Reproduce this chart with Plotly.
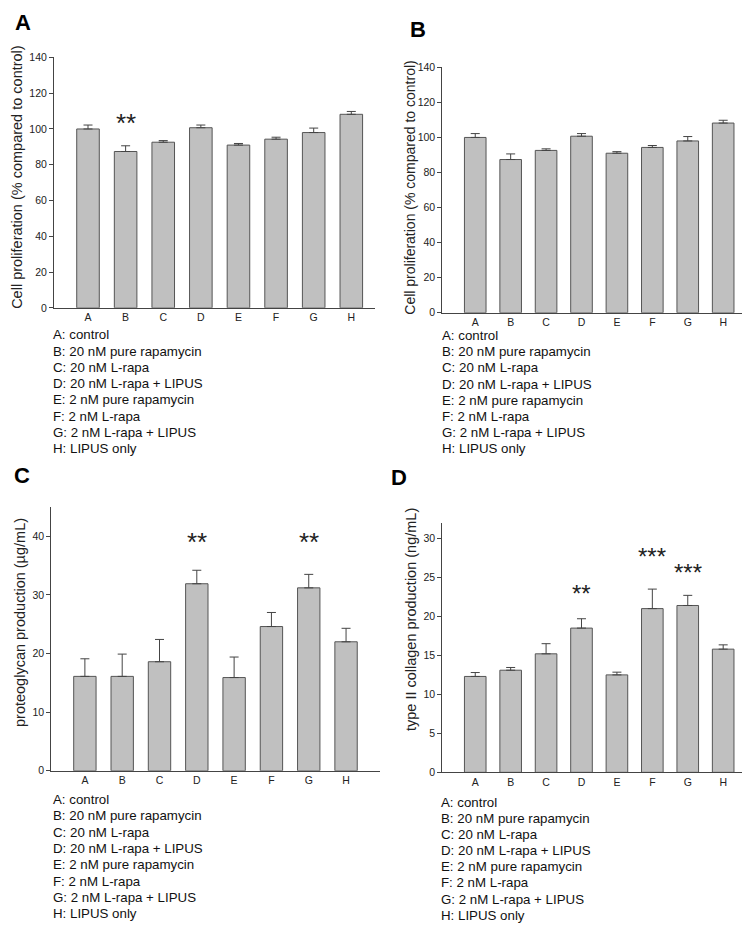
import plotly.graph_objects as go
from plotly.subplots import make_subplots

groups = ['A', 'B', 'C', 'D', 'E', 'F', 'G', 'H']
legend_lines = ['A: control', 'B: 20 nM pure rapamycin', 'C: 20 nM L-rapa',
                'D: 20 nM L-rapa + LIPUS', 'E: 2 nM pure rapamycin', 'F: 2 nM L-rapa',
                'G: 2 nM L-rapa + LIPUS', 'H: LIPUS only']

# panel A and B show the same proliferation data
prolif = [100, 87.4, 92.6, 100.7, 91.0, 94.3, 98.0, 108.2]
prolif_err = [2.2, 3.2, 0.9, 1.5, 0.9, 1.1, 2.5, 1.6]

proteo = [16.1, 16.1, 18.6, 31.9, 15.9, 24.6, 31.2, 22.0]
proteo_err = [3.0, 3.8, 3.8, 2.3, 3.5, 2.4, 2.3, 2.3]

coll2 = [12.3, 13.1, 15.2, 18.5, 12.5, 21.0, 21.4, 15.8]
coll2_err = [0.5, 0.35, 1.3, 1.2, 0.35, 2.5, 1.3, 0.55]

# significance marks: (group, label, y position in data units)
sig_A = [('B', '**', 98.9)]
sig_C = [('D', '**', 37.6), ('G', '**', 37.6)]
sig_D = [('D', '**', 21.9), ('F', '***', 26.7), ('G', '***', 24.6)]

FONT = 'Liberation Sans, Arial, sans-serif'
BAR = '#c0c0c0'
EDGE = '#555555'
AX = '#444444'

W, H = 750, 927

fig = make_subplots(rows=2, cols=2)

panels = [
    # (row, col, vals, err, xdom px, ydom px (top,bottom), xrange, yrange, dtick, width)
    (1, 1, prolif, prolif_err, (46, 367), (44, 297.7), [-0.904, 7.63], [0, 140], 20, 0.6),
    (1, 2, prolif, prolif_err, (434.3, 746.7), (54, 302.7), [-0.93, 7.89], [0, 140], 20, 0.61),
    (2, 1, proteo, proteo_err, (43.3, 372), (499.4, 766.7), [-0.9, 7.91], [0, 45], 10, 0.6),
    (2, 2, coll2, coll2_err, (434.3, 746.7), (515.5, 768.3), [-0.93, 7.89], [0, 32], 5, 0.61),
]

for row, col, vals, err, xd, yd, xr, yr, dt, bw in panels:
    fig.add_trace(go.Bar(
        x=groups, y=vals, width=bw,
        marker=dict(color=BAR, line=dict(color=EDGE, width=1)),
        error_y=dict(type='data', array=err, arrayminus=[0] * len(err), symmetric=False,
                     color=AX, thickness=1, width=4.5),
        showlegend=False,
    ), row=row, col=col)
    fig.update_xaxes(domain=[xd[0] / W, xd[1] / W], range=xr, showline=True, linecolor=AX,
                     linewidth=1, ticks='', ticklen=0, showgrid=False, zeroline=False,
                     tickfont=dict(family=FONT, size=10.5, color='#222'),
                     ticklabelstandoff=0, row=row, col=col)
    fig.update_yaxes(domain=[1 - yd[1] / H, 1 - yd[0] / H], range=yr, dtick=dt,
                     showline=True, linecolor=AX, linewidth=1, ticks='outside', ticklen=4,
                     tickcolor=AX, showgrid=False, zeroline=False,
                     tickfont=dict(family=FONT, size=10.5, color='#222'),
                     row=row, col=col)

ann = []

# panel letters
for letter, (px, py) in zip('ABCD', [(15, 9), (410, 16), (14, 468), (391, 470)]):
    ann.append(dict(text='<b>%s</b>' % letter, x=px / W, y=1 - py / H, xref='paper', yref='paper',
                    showarrow=False, xanchor='center', yanchor='middle',
                    font=dict(family=FONT, size=22, color='black')))

# y titles
ytitles = [('Cell proliferation (% compared to control)', 9, 165, 14.5),
           ('Cell proliferation (% compared to control)', 402, 176, 14),
           ('proteoglycan production (\u00b5g/mL)', 12, 617, 14.5),
           ('type II collagen production (ng/mL)', 403, 614, 14.5)]
for t, px, py, fs in ytitles:
    ann.append(dict(text=t, x=px / W, y=1 - py / H, xref='paper', yref='paper', textangle=-90,
                    showarrow=False, xanchor='center', yanchor='middle',
                    font=dict(family=FONT, size=fs, color='#222')))

# group legends under each panel
for x0, y0, step in [(43, 325, 16.5), (432, 326, 16.3), (43, 796, 16.5), (431, 798.5, 16.36)]:
    for i, line in enumerate(legend_lines):
        ann.append(dict(text=line, x=x0 / W, y=1 - (y0 + i * step) / H, xref='paper', yref='paper',
                        showarrow=False, xanchor='left', yanchor='middle',
                        font=dict(family=FONT, size=13.3, color='#111')))

# significance stars
for sigs, xa, ya, fs in [(sig_A, 'x', 'y', 26), (sig_C, 'x3', 'y3', 26), (sig_D, 'x4', 'y4', 24)]:
    for g, lab, yv in sigs:
        ann.append(dict(text=lab, x=g, y=yv, xref=xa, yref=ya, showarrow=False,
                        xanchor='center', yanchor='middle', yshift=8,
                        font=dict(family=FONT, size=fs, color='#222')))

fig.update_layout(width=W, height=H, margin=dict(l=0, r=0, t=0, b=0),
                  plot_bgcolor='white', paper_bgcolor='white', annotations=ann,
                  bargap=0.4)

fig.write_html("out.html")
